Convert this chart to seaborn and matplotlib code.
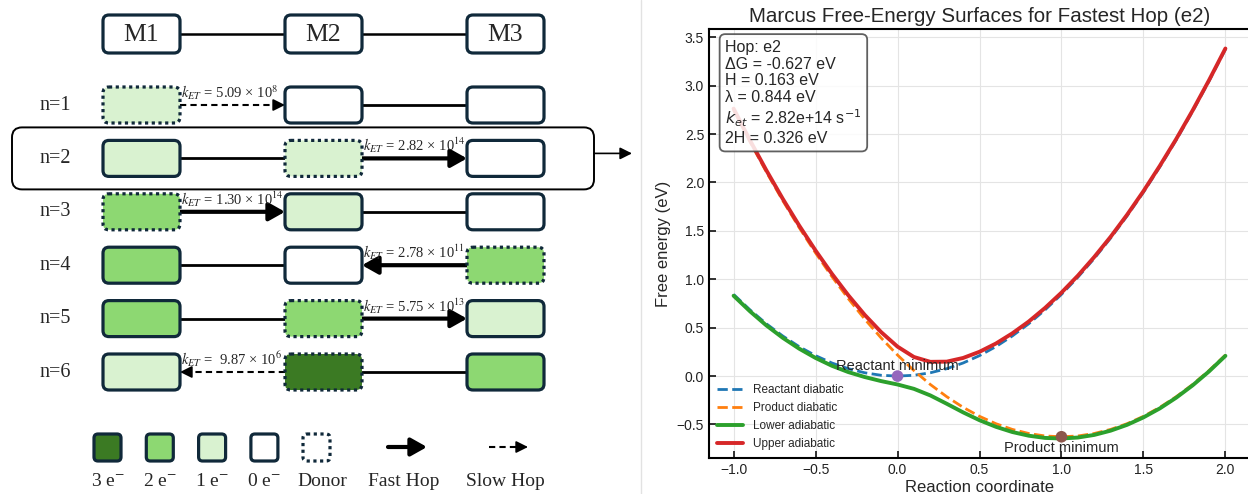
import numpy as np
import matplotlib
matplotlib.use('Agg')
import matplotlib.pyplot as plt
import seaborn as sns
from matplotlib.patches import FancyBboxPatch
from matplotlib.lines import Line2D

# ---------------- dados do esquema (painel esquerdo) ----------------
sites = ['M1', 'M2', 'M3']
row_labels = ['n=1', 'n=2', 'n=3', 'n=4', 'n=5', 'n=6']
electrons = [[1, 0, 0], [1, 1, 0], [2, 1, 0], [2, 0, 2], [2, 2, 1], [1, 3, 2]]
donor_site = [0, 1, 0, 2, 1, 1]
acceptor_site = [1, 2, 1, 1, 2, 0]
fast_hop = [False, True, True, True, True, False]
rate_mantissa = ['5.09', '2.82', '1.30', '2.78', '5.75', ' 9.87']
rate_exponent = [8, 14, 14, 11, 13, 6]
highlight_row = 1
legend_electrons = [3, 2, 1, 0]
legend_labels = ['3 e$^{-}$', '2 e$^{-}$', '1 e$^{-}$', '0 e$^{-}$', 'Donor', 'Fast Hop', 'Slow Hop']

# ---------------- dados Marcus (painel direito) ----------------
hop_name = 'e2'
delta_g = -0.627
coupling_h = 0.163
reorg_lambda = 0.844
k_et = '2.82e+14'
reaction_coord = [-1.0, -0.9, -0.8, -0.7, -0.6, -0.5, -0.4, -0.3, -0.2, -0.1, 0.0,
                  0.1, 0.2, 0.3, 0.4, 0.5, 0.6, 0.7, 0.8, 0.9, 1.0,
                  1.1, 1.2, 1.3, 1.4, 1.5, 1.6, 1.7, 1.8, 1.9, 2.0]
reactant_diabatic = [0.844, 0.684, 0.540, 0.414, 0.304, 0.211, 0.135, 0.076, 0.034, 0.008, 0.000,
                     0.008, 0.034, 0.076, 0.135, 0.211, 0.304, 0.414, 0.540, 0.684, 0.844,
                     1.021, 1.215, 1.426, 1.654, 1.899, 2.161, 2.439, 2.735, 3.047, 3.376]
product_diabatic = [2.749, 2.420, 2.108, 1.812, 1.534, 1.272, 1.027, 0.799, 0.588, 0.394, 0.217,
                    0.057, -0.087, -0.213, -0.323, -0.416, -0.492, -0.551, -0.593, -0.619, -0.627,
                    -0.619, -0.593, -0.551, -0.492, -0.416, -0.323, -0.213, -0.087, 0.057, 0.217]
lower_adiabatic = [0.830, 0.669, 0.523, 0.395, 0.283, 0.187, 0.106, 0.041, -0.010, -0.052, -0.087,
                   -0.132, -0.200, -0.286, -0.375, -0.456, -0.524, -0.578, -0.616, -0.639, -0.645,
                   -0.635, -0.608, -0.564, -0.504, -0.427, -0.334, -0.223, -0.096, 0.048, 0.209]
upper_adiabatic = [2.763, 2.435, 2.125, 1.831, 1.555, 1.297, 1.056, 0.834, 0.632, 0.454, 0.304,
                   0.197, 0.147, 0.149, 0.187, 0.251, 0.336, 0.441, 0.563, 0.704, 0.862,
                   1.037, 1.230, 1.439, 1.666, 1.910, 2.172, 2.449, 2.744, 3.056, 3.384]
minima_x = [0.0, 1.0]
minima_y = [0.0, -0.627]
minima_labels = ['Reactant minimum', 'Product minimum']

# ---------------- estilo ----------------
sns.set_style('ticks', {'xtick.direction': 'in', 'ytick.direction': 'in',
                        'axes.grid': True, 'grid.color': '#e4e4e4'})
plt.rcParams['font.family'] = ['Liberation Sans', 'DejaVu Sans']

EDGE = '#10293a'
FILL = {0: 'white', 1: '#d9f2d0', 2: '#8dd872', 3: '#3b7a23'}
SERIF = ['Liberation Serif', 'DejaVu Serif']

fig = plt.figure(figsize=(12.48, 4.94), dpi=100)


def caixa(ax, x, y, w, h, fill, donor=False, r=6):
    ls = (0, (1, 1.1)) if donor else '-'
    ax.add_patch(FancyBboxPatch((x, y), w, h, boxstyle=f'round,pad=0,rounding_size={r}',
                                fc=fill, ec=EDGE, lw=2.3, ls=ls, zorder=3))


def seta(ax, x0, x1, y, fast):
    d = 1 if x1 > x0 else -1
    if fast:
        ax.annotate('', xy=(x1, y), xytext=(x0, y), zorder=2,
                    arrowprops=dict(arrowstyle='-|>,head_length=0.8,head_width=0.45',
                                    lw=3, color='black', shrinkA=0, shrinkB=0,
                                    mutation_scale=12))
    else:
        ax.plot([x0, x1 - d * 8], [y, y], color='black', lw=1.5, ls=(0, (3, 2)), zorder=2)
        ax.annotate('', xy=(x1, y), xytext=(x1 - d * 9, y), zorder=2,
                    arrowprops=dict(arrowstyle='-|>,head_length=0.9,head_width=0.45',
                                    lw=1.2, color='black', shrinkA=0, shrinkB=0,
                                    mutation_scale=8))


# ---------------- painel esquerdo: esquema ----------------
ax_l = fig.add_axes([0, 0, 640 / 1248, 1])
ax_l.set_xlim(0, 640)
ax_l.set_ylim(494, 0)
ax_l.axis('off')

col_left = [103 + 182 * j for j in range(3)]
box_w, box_h = 77, 36

# cabeçalho M1 - M2 - M3
for j, nome in enumerate(sites):
    caixa(ax_l, col_left[j], 15, box_w, 38, 'white')
    ax_l.text(col_left[j] + box_w / 2, 35, nome, ha='center', va='center',
              fontsize=18.5, family=SERIF, zorder=4)
for j in range(2):
    ax_l.plot([col_left[j] + box_w, col_left[j + 1]], [34, 34], color='black', lw=1.8, zorder=1)

for i, lab in enumerate(row_labels):
    yc = 105 + 53.4 * i
    ax_l.text(55, yc, lab, ha='center', va='center', fontsize=14.5, family=SERIF)
    for j in range(3):
        caixa(ax_l, col_left[j], yc - box_h / 2, box_w, box_h, FILL[electrons[i][j]],
              donor=(j == donor_site[i]))
    a, b = donor_site[i], acceptor_site[i]
    left = min(a, b)
    # ligação simples no par que não participa do salto
    other = 1 if left == 0 else 0
    ax_l.plot([col_left[other] + box_w, col_left[other + 1]], [yc, yc],
              color='black', lw=2, zorder=1)
    x0 = col_left[a] + box_w if b > a else col_left[a]
    x1 = col_left[b] if b > a else col_left[b] + box_w
    seta(ax_l, x0, x1, yc, fast_hop[i])
    ax_l.text(col_left[left] + box_w + 1, yc - 3,
              rf'$k_{{ET}}$ = {rate_mantissa[i]} × 10$^{{{rate_exponent[i]}}}$',
              ha='left', va='bottom', fontsize=10.5, family=SERIF,
              math_fontfamily='stix', zorder=5)

# destaque da linha n=2
yh = 105 + 53.4 * highlight_row
ax_l.add_patch(FancyBboxPatch((12, yh - 31), 582, 62, boxstyle='round,pad=0,rounding_size=10',
                              fc='none', ec='black', lw=1.4, zorder=2))
ax_l.annotate('', xy=(632, yh - 5), xytext=(594, yh - 5),
              arrowprops=dict(arrowstyle='-|>,head_length=0.8,head_width=0.4',
                              lw=1.2, color='black', shrinkA=0, shrinkB=0, mutation_scale=9))

# legenda do esquema
for k, ne in enumerate(legend_electrons):
    xl = 94 + 52.3 * k
    caixa(ax_l, xl, 434, 27, 27, FILL[ne], r=4)
caixa(ax_l, 303, 434, 27, 27, 'white', donor=True, r=4)
seta(ax_l, 388, 427, 447, True)
seta(ax_l, 489, 528, 447, False)
label_x = [108, 160, 212, 264, 322, 404, 505]
for xl, lab in zip(label_x, legend_labels):
    ax_l.text(xl, 481, lab, ha='center', va='center', fontsize=14, family=SERIF,
              math_fontfamily='stix')

# linha divisória
fig.add_artist(Line2D([641 / 1248, 641 / 1248], [0, 1], color='#e2e2e2', lw=1))

# ---------------- painel direito: Marcus ----------------
ax = fig.add_axes([709 / 1248, 36 / 494, 541 / 1248, 429 / 494])
sns.lineplot(x=reaction_coord, y=reactant_diabatic, ax=ax, color='#1f77b4', lw=2,
             linestyle='--', label='Reactant diabatic')
sns.lineplot(x=reaction_coord, y=product_diabatic, ax=ax, color='#ff7f0e', lw=2,
             linestyle='--', label='Product diabatic')
sns.lineplot(x=reaction_coord, y=lower_adiabatic, ax=ax, color='#2ca02c', lw=2.8,
             label='Lower adiabatic')
sns.lineplot(x=reaction_coord, y=upper_adiabatic, ax=ax, color='#d62728', lw=2.8,
             label='Upper adiabatic')
sns.scatterplot(x=minima_x, y=minima_y, ax=ax, hue=minima_labels,
                palette=['#9467bd', '#8c564b'], s=70, edgecolor='none', zorder=5, legend=False)
ax.annotate(minima_labels[0], (minima_x[0], minima_y[0]), xytext=(0, 2.5),
            textcoords='offset points', ha='center', va='bottom', fontsize=10.5)
ax.annotate(minima_labels[1], (minima_x[1], minima_y[1]), xytext=(0, -3),
            textcoords='offset points', ha='center', va='top', fontsize=10.5)

info = (f'Hop: {hop_name}\n'
        f'ΔG = {delta_g:.3f} eV\n'
        f'H = {coupling_h:.3f} eV\n'
        f'λ = {reorg_lambda:.3f} eV\n'
        rf'$k_{{et}}$ = {k_et} s$^{{-1}}$' '\n'
        f'2H = {2 * coupling_h:.3f} eV')
ax.text(0.03, 0.975, info, transform=ax.transAxes, ha='left', va='top', fontsize=11.5,
        linespacing=1.15, zorder=6,
        bbox=dict(boxstyle='round,pad=0.35', fc='white', ec='#444444', lw=1.3, alpha=0.85))

ax.set_title('Marcus Free-Energy Surfaces for Fastest Hop (e2)', fontsize=14.8, pad=5)
ax.set_xlabel('Reaction coordinate', fontsize=12, labelpad=2)
ax.set_ylabel('Free energy (eV)', fontsize=12, labelpad=4)
ax.tick_params(labelsize=10, length=5, width=1.3, colors='#222222', top=False, right=False)
ax.grid(True, color='#e4e4e4', lw=0.8)
for sp in ax.spines.values():
    sp.set_color('black')
    sp.set_linewidth(1.5)
ax.legend(loc='lower left', frameon=False, fontsize=8.5, labelspacing=0.5,
          handlelength=2.2, borderaxespad=0.3)

fig.savefig('out.png', dpi=100)
